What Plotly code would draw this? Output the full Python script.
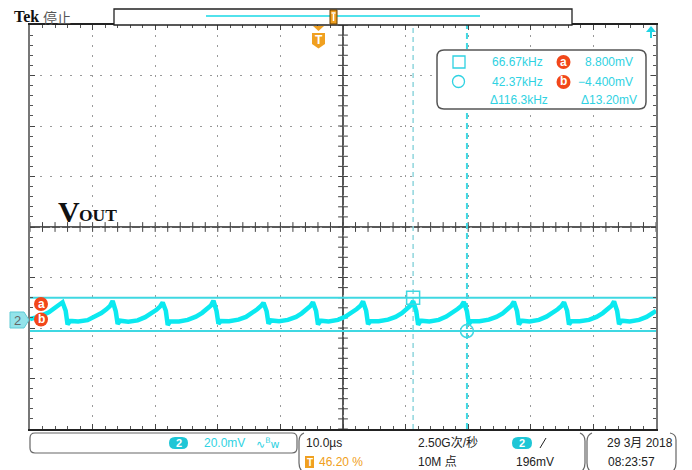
import plotly.graph_objects as go

# ---------------- data read from the screen ----------------
# channel 2 trace: time relative to trigger (us), voltage relative to ch2 ground (mV)
trace_t_us = [
    -46.2, -44.6, -43.2, -42.0, -41.0,
    -40.5, -40.2, -39.8, -38.5, -37.0, -35.8, -34.8, -34.0, -33.4, -33.0,
    -32.5, -32.2, -31.8, -30.5, -29.0, -27.8, -26.8, -26.0, -25.4, -25.0,
    -24.5, -24.2, -23.8, -22.4, -21.0, -19.7, -18.7, -17.9, -17.3, -16.9,
    -16.4, -16.1, -15.7, -14.4, -12.9, -11.7, -10.7, -9.9, -9.3, -8.9,
    -8.4, -8.1, -7.7, -6.4, -5.0, -3.7, -2.8, -2.0, -1.4, -1.0,
    -0.5, -0.2, 0.2, 1.5, 3.0, 4.2, 5.2, 6.0, 6.6, 7.0,
    7.5, 7.8, 8.2, 9.5, 11.0, 12.2, 13.2, 14.0, 14.6, 15.0,
    15.5, 15.8, 16.2, 17.6, 19.1, 20.3, 21.3, 22.1, 22.7, 23.1,
    23.6, 23.9, 24.3, 25.6, 27.1, 28.3, 29.3, 30.1, 30.7, 31.1,
    31.6, 31.9, 32.3, 33.6, 35.1, 36.3, 37.3, 38.1, 38.7, 39.1,
    39.6, 39.9, 40.3, 41.6, 43.1, 44.3, 45.3, 46.1, 46.7, 47.1,
    47.6, 47.9, 48.3, 49.6, 51.1, 52.3, 53.3, 53.8,
]
trace_mv = [
    0.3, 1.4, 3.0, 5.0, 7.0,
    3.6, -1.8, -0.4, -0.6, -0.1, 1.2, 2.7, 4.2, 5.6, 7.5,
    3.4, -1.6, -0.3, -0.7, -0.2, 1.1, 2.5, 4.0, 5.4, 6.9,
    3.6, -2.0, -0.5, -0.6, 0.0, 1.3, 2.8, 4.3, 5.7, 7.6,
    3.5, -1.5, -0.4, -0.5, 0.1, 1.2, 2.7, 4.2, 5.5, 6.8,
    3.4, -1.5, -0.2, -0.5, 0.0, 1.2, 2.6, 4.1, 5.5, 7.0,
    3.5, -1.8, -0.3, -0.6, 0.0, 1.3, 2.8, 4.3, 5.6, 7.3,
    3.6, -1.7, -0.4, -0.5, 0.1, 1.2, 2.7, 4.2, 5.7, 7.4,
    3.5, -1.9, -0.3, -0.6, 0.0, 1.3, 2.8, 4.3, 5.5, 7.1,
    3.4, -1.6, -0.4, -0.5, 0.1, 1.2, 2.6, 4.1, 5.6, 7.2,
    3.5, -1.8, -0.3, -0.6, 0.0, 1.3, 2.7, 4.2, 5.5, 7.0,
    3.6, -1.8, -0.4, -0.5, 0.0, 1.2, 2.7, 4.2, 5.6, 7.3,
    3.5, -1.7, -0.3, -0.6, 0.0, 1.2, 2.6, 3.6,
]

cursor_a_mv = 8.8
cursor_b_mv = -4.4
cursor_a_t_us = 15.0
cursor_b_t_us = 23.6

readout_freq = ["66.67kHz", "42.37kHz", "Δ116.3kHz"]
readout_volt = ["8.800mV", "−4.400mV", "Δ13.20mV"]

time_per_div_us = 10.0
mv_per_div = 20.0
trigger_position = 0.462     # fraction of record left of trigger
ch2_offset_div = 1.84        # ground marker below screen centre
trigger_level_text = "196mV"
vscale_text = "20.0mV"
hscale_text = "10.0µs"
sample_text = "2.50G次/秒"
record_text = "10M 点"
trig_pos_text = "46.20 %"
date_text = "29 3月 2018"
time_text = "08:23:57"

# ---------------- geometry (page pixels) ----------------
PAGE_W, PAGE_H = 692, 470
OFF = 8                      # default page margin around the figure
W, H = PAGE_W - OFF, PAGE_H - OFF
GX0, GX1, GY0, GY1 = 30, 656, 25, 429

x_lo = -trigger_position * 10 * time_per_div_us
x_hi = x_lo + 10 * time_per_div_us
x_mid = (x_lo + x_hi) / 2
y_mid = ch2_offset_div * mv_per_div
y_lo = y_mid - 4 * mv_per_div
y_hi = y_mid + 4 * mv_per_div

TRACE = "#0be9f0"
CUR = "#3fd8e2"
TXTC = "#2fd2e2"
ORANGE = "#f0a020"
RED = "#f2471a"
DARK = "#222222"
SANS = "Liberation Sans, Noto Sans CJK SC"


def px(x):
    return (x - OFF) / W


def py(y):
    return 1 - (y - OFF) / H


def path(points, close=True):
    s = "M %f %f" % (px(points[0][0]), py(points[0][1]))
    for p in points[1:]:
        s += " L %f %f" % (px(p[0]), py(p[1]))
    return s + (" Z" if close else "")


def rrect(x0, y0, x1, y1, r):
    P = lambda x, y: "%f %f" % (px(x), py(y))
    return ("M " + P(x0 + r, y0) + " L " + P(x1 - r, y0) + " Q " + P(x1, y0) + " " + P(x1, y0 + r)
            + " L " + P(x1, y1 - r) + " Q " + P(x1, y1) + " " + P(x1 - r, y1)
            + " L " + P(x0 + r, y1) + " Q " + P(x0, y1) + " " + P(x0, y1 - r)
            + " L " + P(x0, y0 + r) + " Q " + P(x0, y0) + " " + P(x0 + r, y0) + " Z")


def qpath(pts):
    P = lambda p: "%f %f" % (px(p[0]), py(p[1]))
    return ("M " + P(pts[0]) + " Q " + P(pts[1]) + " " + P(pts[2]) + " L " + P(pts[3])
            + " Q " + P(pts[4]) + " " + P(pts[5]))


fig = go.Figure()

# centre crosshair tick marks (graticule)
minor_x = [x_lo + k * time_per_div_us / 5 for k in range(51)]
minor_y = [y_lo + k * mv_per_div / 5 for k in range(41)]
fig.add_trace(go.Scatter(x=minor_x, y=[y_mid] * len(minor_x), mode="markers",
                         marker=dict(symbol="line-ns", size=7, line=dict(color="#444", width=1)),
                         hoverinfo="skip", showlegend=False))
fig.add_trace(go.Scatter(x=[x_mid] * len(minor_y), y=minor_y, mode="markers",
                         marker=dict(symbol="line-ew", size=7, line=dict(color="#444", width=1)),
                         hoverinfo="skip", showlegend=False))

# cursors
fig.add_trace(go.Scatter(x=[cursor_a_t_us, cursor_a_t_us], y=[y_lo, y_hi], mode="lines",
                         line=dict(color="#8fd6dd", width=1.5, dash="5px,4px"),
                         hoverinfo="skip", showlegend=False))
fig.add_trace(go.Scatter(x=[cursor_b_t_us, cursor_b_t_us], y=[y_lo, y_hi], mode="lines",
                         line=dict(color=CUR, width=2, dash="6px,4px"),
                         hoverinfo="skip", showlegend=False))
fig.add_trace(go.Scatter(x=[x_lo, x_hi], y=[cursor_a_mv, cursor_a_mv], mode="lines",
                         line=dict(color=CUR, width=2), hoverinfo="skip", showlegend=False))
fig.add_trace(go.Scatter(x=[x_lo, x_hi], y=[cursor_b_mv, cursor_b_mv], mode="lines",
                         line=dict(color=CUR, width=2), hoverinfo="skip", showlegend=False))

# waveform
fig.add_trace(go.Scatter(x=trace_t_us, y=trace_mv, mode="lines",
                         line=dict(color=TRACE, width=4.5), hoverinfo="skip", showlegend=False))

# cursor markers
fig.add_trace(go.Scatter(x=[cursor_a_t_us], y=[cursor_a_mv], mode="markers",
                         marker=dict(symbol="square-open", size=13, color=CUR, line=dict(width=1.5)),
                         hoverinfo="skip", showlegend=False))
fig.add_trace(go.Scatter(x=[cursor_b_t_us], y=[cursor_b_mv], mode="markers",
                         marker=dict(symbol="circle-open", size=13, color=CUR, line=dict(width=1.5)),
                         hoverinfo="skip", showlegend=False))

shapes = []
ann = []

# centre crosshair
shapes.append(dict(type="line", xref="x", yref="y", x0=x_mid, x1=x_mid, y0=y_lo, y1=y_hi,
                   line=dict(color=DARK, width=1.5), layer="below"))
shapes.append(dict(type="line", xref="x", yref="y", x0=x_lo, x1=x_hi, y0=y_mid, y1=y_mid,
                   line=dict(color=DARK, width=1.5), layer="below"))


def text(x, y, s, size=12, color=DARK, xanchor="left", family=SANS, bold=False):
    ann.append(dict(xref="paper", yref="paper", x=px(x), y=py(y), text=("<b>%s</b>" % s) if bold else s,
                    showarrow=False, xanchor=xanchor, yanchor="middle",
                    font=dict(size=size, color=color, family=family)))


def circ(cx, cy, r, fill, line=None, lw=0):
    shapes.append(dict(type="circle", xref="paper", yref="paper", x0=px(cx - r), x1=px(cx + r),
                       y0=py(cy + r), y1=py(cy - r), fillcolor=fill,
                       line=dict(color=line or fill, width=lw)))


# title
text(12, 17, "Tek", size=16, color="#111", family="Liberation Serif", bold=True)
text(41, 17, "停止", size=14, color="#555", family="Noto Sans CJK SC")

# record bar
shapes.append(dict(type="rect", xref="paper", yref="paper", x0=px(114), x1=px(572), y0=py(25), y1=py(9),
                   fillcolor="white", line=dict(color="#222", width=1.3)))
shapes.append(dict(type="line", xref="paper", yref="paper", x0=px(206), x1=px(480), y0=py(16), y1=py(16),
                   line=dict(color="#18d8e6", width=1.5)))
shapes.append(dict(type="rect", xref="paper", yref="paper", x0=px(330), x1=px(337), y0=py(24), y1=py(10),
                   fillcolor=ORANGE, line=dict(color="#6b4000", width=1)))
shapes.append(dict(type="line", xref="paper", yref="paper", x0=px(333.5), x1=px(333.5), y0=py(21), y1=py(14),
                   line=dict(color="white", width=1.5)))
shapes.append(dict(type="line", xref="paper", yref="paper", x0=px(331.5), x1=px(335.5), y0=py(13), y1=py(13),
                   line=dict(color="white", width=1.5)))

# trigger position marker
shapes.append(dict(type="path", xref="paper", yref="paper",
                   path=path([(313, 26), (324, 26), (318.5, 31)]), fillcolor=ORANGE, line=dict(width=0)))
shapes.append(dict(type="path", xref="paper", yref="paper",
                   path=path([(312, 33), (325, 33), (325, 44), (318.5, 48.5), (312, 44)]),
                   fillcolor=ORANGE, line=dict(width=0)))
text(318.5, 40, "T", size=12, color="white", xanchor="center", bold=True)

# top-right arrow
shapes.append(dict(type="path", xref="paper", yref="paper",
                   path=path([(646, 32), (656, 32), (651, 26)]), fillcolor="#20d4e4", line=dict(width=0)))
shapes.append(dict(type="line", xref="paper", yref="paper", x0=px(651), x1=px(651), y0=py(32), y1=py(38),
                   line=dict(color="#20d4e4", width=2)))

# measurement box
shapes.append(dict(type="path", xref="paper", yref="paper", path=rrect(437, 50, 646, 109, 7),
                   fillcolor="white", line=dict(color="#555", width=1.5)))
shapes.append(dict(type="rect", xref="paper", yref="paper", x0=px(453), x1=px(465), y0=py(68), y1=py(56),
                   fillcolor="white", line=dict(color=TXTC, width=1.3)))
circ(458.5, 81.5, 6, "white", TXTC, 1.3)
rows_y = [62, 82, 100]
text(545, rows_y[0], readout_freq[0], size=12, color=TXTC, xanchor="right")
text(545, rows_y[1], readout_freq[1], size=12, color=TXTC, xanchor="right")
text(550, rows_y[2], readout_freq[2], size=12, color=TXTC, xanchor="right")
text(635, rows_y[0], readout_volt[0], size=12, color=TXTC, xanchor="right")
text(635, rows_y[1], readout_volt[1], size=12, color=TXTC, xanchor="right")
text(639, rows_y[2], readout_volt[2], size=12, color=TXTC, xanchor="right")
circ(563.5, 62, 7, RED)
text(563.5, 61.5, "a", size=12, color="white", xanchor="center", bold=True)
circ(563.5, 82, 7, RED)
text(563.5, 81.5, "b", size=12, color="white", xanchor="center", bold=True)

# VOUT label
text(56, 211, "V", size=30, color="#111", family="Liberation Serif", bold=True)
text(77, 215.5, "OUT", size=17.5, color="#111", family="Liberation Serif", bold=True)

# ch2 ground marker + cursor labels
shapes.append(dict(type="path", xref="paper", yref="paper",
                   path=path([(10, 312), (24, 312), (29, 320), (24, 328), (10, 328)]),
                   fillcolor="#93e3ea", line=dict(color="#5fcbd5", width=1)))
text(17, 320, "2", size=13, color="#666", xanchor="center")
circ(41, 304, 7, RED)
text(41, 303.5, "a", size=12, color="white", xanchor="center", bold=True)
circ(41, 319.5, 7, RED)
text(41, 319, "b", size=12, color="white", xanchor="center", bold=True)

# bottom status panels
shapes.append(dict(type="path", xref="paper", yref="paper", path=rrect(30, 433, 297, 453, 5),
                   fillcolor="white", line=dict(color="#666", width=1.2)))
shapes.append(dict(type="path", xref="paper", yref="paper", path=rrect(169, 437, 188, 449, 6),
                   fillcolor="#1ec6d6", line=dict(width=0)))
text(178.5, 443, "2", size=11, color="white", xanchor="center", bold=True)
text(202, 443, vscale_text, size=12, color=TXTC)
text(254, 443, "∿<sup>B</sup>w", size=11, color=TXTC, family="DejaVu Sans")

shapes.append(dict(type="path", xref="paper", yref="paper",
                   path=qpath([(304, 433), (299, 435), (299, 441), (299, 463), (299, 469), (303, 472)]),
                   line=dict(color="#666", width=1.2)))
shapes.append(dict(type="path", xref="paper", yref="paper",
                   path=qpath([(580, 433), (585, 435), (585, 441), (585, 463), (585, 469), (581, 472)]),
                   line=dict(color="#666", width=1.2)))
shapes.append(dict(type="path", xref="paper", yref="paper",
                   path=qpath([(592, 433), (587, 435), (587, 441), (587, 463), (587, 469), (591, 472)]),
                   line=dict(color="#666", width=1.2)))
shapes.append(dict(type="path", xref="paper", yref="paper",
                   path=qpath([(670, 433), (676, 434), (676, 440), (676, 463), (676, 469), (672, 472)]),
                   line=dict(color="#666", width=1.2)))

text(304, 443, hscale_text, size=12)
shapes.append(dict(type="rect", xref="paper", yref="paper", x0=px(305), x1=px(314), y0=py(468), y1=py(456),
                   fillcolor=ORANGE, line=dict(width=0)))
text(309.5, 462, "T", size=10, color="white", xanchor="center", bold=True)
text(317, 462, trig_pos_text, size=12, color=ORANGE)
text(416, 443, sample_text, size=12)
text(416, 462, record_text, size=12)
shapes.append(dict(type="path", xref="paper", yref="paper", path=rrect(512, 437, 532, 449, 6),
                   fillcolor="#1ec6d6", line=dict(width=0)))
text(522, 443, "2", size=11, color="white", xanchor="center", bold=True)
shapes.append(dict(type="line", xref="paper", yref="paper", x0=px(540), x1=px(546), y0=py(448), y1=py(438),
                   line=dict(color=DARK, width=1)))
text(514, 462, trigger_level_text, size=12)
text(675, 443, date_text, size=12, xanchor="right")
text(606, 462, time_text, size=12)

axis_common = dict(showticklabels=False, zeroline=False, showgrid=True, gridcolor="#9a9a9a",
                   gridwidth=1, griddash="2px,8px", ticks="inside", ticklen=5, tickcolor="#444",
                   showline=True, mirror="ticks", fixedrange=True)

fig.update_layout(
    width=W, height=H, autosize=False,
    margin=dict(l=0, r=0, t=0, b=0),
    paper_bgcolor="white", plot_bgcolor="white",
    showlegend=False,
    shapes=shapes, annotations=ann,
    xaxis=dict(range=[x_lo, x_hi], domain=[(GX0 - OFF) / W, (GX1 - OFF) / W], tick0=x_mid,
               dtick=time_per_div_us, linecolor="#222", linewidth=1.5,
               minor=dict(tick0=x_mid, dtick=time_per_div_us / 5, ticks="inside", ticklen=3,
                          tickcolor="#555", showgrid=False),
               **axis_common),
    yaxis=dict(range=[y_lo, y_hi], domain=[1 - (GY1 - OFF) / H, 1 - (GY0 - OFF) / H], tick0=y_mid,
               dtick=mv_per_div, linecolor="#777", linewidth=1.8,
               minor=dict(tick0=y_mid, dtick=mv_per_div / 5, ticks="inside", ticklen=3,
                          tickcolor="#555", showgrid=False),
               **axis_common),
)

fig.write_html("out.html")
